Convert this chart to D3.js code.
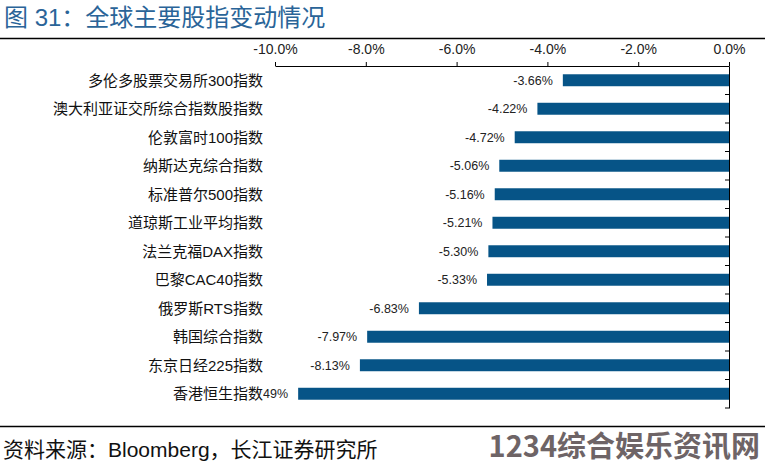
<!DOCTYPE html>
<html><head><meta charset="utf-8">
<script src="https://cdn.jsdelivr.net/npm/d3@7"></script>
<style>body{margin:0;background:#fff}svg{display:block}</style>
</head><body>
<script>
const categories = ["多伦多股票交易所300指数","澳大利亚证交所综合指数股指数","伦敦富时100指数","纳斯达克综合指数","标准普尔500指数","道琼斯工业平均指数","法兰克福DAX指数","巴黎CAC40指数","俄罗斯RTS指数","韩国综合指数","东京日经225指数","香港恒生指数"];
const values = [-3.66,-4.22,-4.72,-5.06,-5.16,-5.21,-5.30,-5.33,-6.83,-7.97,-8.13,-9.49];
const tickValues = [-10,-8,-6,-4,-2,0];
const title = "图 31：全球主要股指变动情况";
const source = "资料来源：Bloomberg，长江证券研究所";

const W = 765, H = 465;
const font = "'Liberation Sans', Arial, 'Noto Sans CJK SC', sans-serif";
const svg = d3.select("body").append("svg").attr("width", W).attr("height", H).style("font-family", font);

svg.append("text").attr("x", 4).attr("y", 26).attr("font-size", 24).attr("fill", "#2a6498").text(title);
svg.append("line").attr("x1", 0).attr("x2", W).attr("y1", 38.5).attr("y2", 38.5).attr("stroke", "#000").attr("stroke-width", 1.5);

const x = d3.scaleLinear().domain([-10, 0]).range([275, 729]);
const y = d3.scaleBand().domain(categories).range([66, 408]).paddingInner(0.58).paddingOuter(0.29);

// top axis
const ax = svg.append("g").attr("transform", "translate(0,66)")
  .call(d3.axisTop(x).tickValues(tickValues).tickFormat(d => d.toFixed(1) + "%").tickSizeInner(4).tickSizeOuter(0).tickPadding(8));
ax.select(".domain").attr("stroke", "#000");
ax.selectAll("text").attr("font-size", 14).attr("fill", "#222").attr("font-family", font);

// bars
svg.append("g").selectAll("rect").data(values).join("rect")
  .attr("x", d => x(d)).attr("width", d => x(0) - x(d))
  .attr("y", (d, i) => y(categories[i])).attr("height", y.bandwidth())
  .attr("fill", "#065487");

// value labels
svg.append("g").selectAll("text").data(values).join("text")
  .attr("x", d => x(d) - 10).attr("y", (d, i) => y(categories[i]) + y.bandwidth() / 2)
  .attr("dy", "0.35em").attr("text-anchor", "end").attr("font-size", 12.5).attr("fill", "#222")
  .text(d => d.toFixed(2) + "%");

// vertical axis at zero
const vy = d3.scaleBand().domain(categories).range([66, 408]);
const va = svg.append("g").attr("transform", `translate(${x(0)},0)`)
  .call(d3.axisLeft(vy).tickValues([]).tickSizeOuter(0));
va.select(".domain").attr("stroke", "#000");
va.append("g").selectAll("line").data(categories.slice(1).concat(["end"])).join("line")
  .attr("x1", -4).attr("x2", 0)
  .attr("y1", (d, i) => i < categories.length - 1 ? vy(d) : 408)
  .attr("y2", (d, i) => i < categories.length - 1 ? vy(d) : 408)
  .attr("stroke", "#000");

// category labels with white backing
const cg = svg.append("g");
categories.forEach((c, i) => {
  const t = cg.append("text").attr("x", 263).attr("y", y(c) + y.bandwidth() / 2).attr("dy", "0.35em")
    .attr("text-anchor", "end").attr("font-size", 15).attr("fill", "#111").text(c);
  const b = t.node().getBBox();
  cg.insert("rect", () => t.node()).attr("x", b.x).attr("y", b.y).attr("width", b.width).attr("height", b.height).attr("fill", "#fff");
});

// bottom line and source
svg.append("line").attr("x1", 0).attr("x2", W).attr("y1", 426.5).attr("y2", 426.5).attr("stroke", "#000").attr("stroke-width", 1.5);
svg.append("text").attr("x", 3).attr("y", 457).attr("font-size", 21).attr("fill", "#111").text(source);

// watermark
svg.append("text").attr("x", 760).attr("y", 457).attr("text-anchor", "end").attr("font-size", 29).attr("font-weight", "bold")
  .attr("fill", "#6e6466").attr("font-family", "'Noto Sans CJK SC', sans-serif").text("1234综合娱乐资讯网");
</script>
</body></html>
